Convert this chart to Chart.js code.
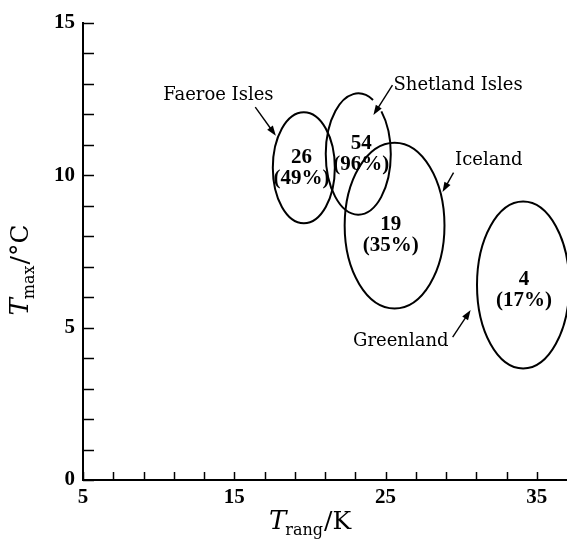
<!DOCTYPE html>
<html>
<head>
<meta charset="utf-8">
<script src="https://cdn.jsdelivr.net/npm/chart.js@4.4.1/dist/chart.umd.min.js"></script>
<style>
  html, body { margin: 0; padding: 0; background: #fff; }
  #wrap { width: 567px; height: 544px; position: relative; }
</style>
</head>
<body>
<div id="wrap"><canvas id="chart"></canvas></div>
<script>
// island clusters: centre and half-widths of each ellipse (data units)
const regions = ['Faeroe Isles', 'Shetland Isles', 'Iceland', 'Greenland'];
const centerX = [19.6, 23.2, 25.6, 34.1];
const centerY = [10.25, 10.7, 8.35, 6.4];
const spreadX = [2.05, 2.15, 3.3, 3.05];
const spreadY = [1.82, 1.99, 2.72, 2.74];
const counts = ['26', '54', '19', '4'];
const percents = ['(49%)', '(96%)', '(35%)', '(17%)'];

// where the count labels sit (data units)
const countX = [19.45, 23.4, 25.35, 34.15];
const countY = [10.27, 10.73, 8.07, 6.24];

// region names and their arrows (data units)
const nameX = [13.95, 25.53, 29.6, 29.17];
const nameY = [12.64, 12.96, 10.5, 4.56];
const nameAlign = ['center', 'left', 'left', 'right'];
const arrowFrom = [[16.39, 12.24], [25.46, 12.96], [29.5, 10.09], [29.44, 4.69]];
const arrowTo = [[17.75, 11.3], [24.2, 11.98], [28.77, 9.45], [30.63, 5.58]];

const xTicks = { min: 5, max: 37, step: 2 };
const yTicks = { min: 0, max: 15, step: 1 };

const serif = '"DejaVu Serif", serif';
const tickFont = '"Liberation Serif", serif';

const drawArrow = (ctx, x0, y0, x1, y1) => {
    const ang = Math.atan2(y1 - y0, x1 - x0);
    const len = 10, half = 3.5;
    ctx.beginPath();
    ctx.moveTo(x0, y0);
    ctx.lineTo(x1 - Math.cos(ang) * len * 0.8, y1 - Math.sin(ang) * len * 0.8);
    ctx.stroke();
    ctx.beginPath();
    ctx.moveTo(x1, y1);
    ctx.lineTo(x1 - Math.cos(ang) * len - Math.sin(ang) * half, y1 - Math.sin(ang) * len + Math.cos(ang) * half);
    ctx.lineTo(x1 - Math.cos(ang) * len + Math.sin(ang) * half, y1 - Math.sin(ang) * len - Math.cos(ang) * half);
    ctx.closePath();
    ctx.fill();
};

const islandsPlugin = {
    id: 'islands',
    afterDraw(chart) {
        const { ctx, scales: { x, y }, chartArea } = chart;
        ctx.save();
        ctx.strokeStyle = '#000';
        ctx.fillStyle = '#000';

        // inward tick marks
        ctx.lineWidth = 1.5;
        y.ticks.forEach(t => {
            const py = Math.round(y.getPixelForValue(t.value)) + 0.5;
            ctx.beginPath();
            ctx.moveTo(chartArea.left, py);
            ctx.lineTo(chartArea.left + 11, py);
            ctx.stroke();
        });
        x.ticks.forEach(t => {
            const px = Math.round(x.getPixelForValue(t.value)) + 0.5;
            if (t.value >= xTicks.max) return;
            ctx.beginPath();
            ctx.moveTo(px, chartArea.bottom);
            ctx.lineTo(px, chartArea.bottom - 8);
            ctx.stroke();
        });

        // ellipses
        ctx.lineWidth = 2;
        regions.forEach((r, i) => {
            const cx = x.getPixelForValue(centerX[i]);
            const cy = y.getPixelForValue(centerY[i]);
            const rx = x.getPixelForValue(centerX[i] + spreadX[i]) - cx;
            const ry = cy - y.getPixelForValue(centerY[i] + spreadY[i]);
            ctx.beginPath();
            if (i === 1) {
                // small break where the Shetland arrow meets the outline
                ctx.ellipse(cx, cy, rx, ry, 0, -0.78, Math.PI * 2 - 1.1);
            } else {
                ctx.ellipse(cx, cy, rx, ry, 0, 0, Math.PI * 2);
            }
            ctx.stroke();
        });

        // counts
        ctx.textAlign = 'center';
        ctx.textBaseline = 'middle';
        ctx.font = 'bold 21px ' + tickFont;
        regions.forEach((r, i) => {
            const px = x.getPixelForValue(countX[i]);
            const py = y.getPixelForValue(countY[i]);
            ctx.fillText(counts[i], px, py - 10);
            ctx.fillText(percents[i], px, py + 11);
        });

        // names and arrows
        ctx.font = '18px ' + serif;
        ctx.lineWidth = 1.4;
        regions.forEach((r, i) => {
            ctx.textAlign = nameAlign[i];
            ctx.fillText(r, x.getPixelForValue(nameX[i]), y.getPixelForValue(nameY[i]));
            drawArrow(ctx,
                x.getPixelForValue(arrowFrom[i][0]), y.getPixelForValue(arrowFrom[i][1]),
                x.getPixelForValue(arrowTo[i][0]), y.getPixelForValue(arrowTo[i][1]));
        });

        // axis titles with subscripts
        const title = (main, sub, rest) => {
            ctx.font = 'italic 26px ' + serif;
            const w1 = ctx.measureText(main).width;
            ctx.font = '16px ' + serif;
            const w2 = ctx.measureText(sub).width;
            ctx.font = '25px ' + serif;
            const w3 = ctx.measureText(rest).width;
            const start = -(w1 + w2 + w3) / 2;
            ctx.textAlign = 'left';
            ctx.textBaseline = 'alphabetic';
            ctx.font = 'italic 26px ' + serif;
            ctx.fillText(main, start, 0);
            ctx.font = '16px ' + serif;
            ctx.fillText(sub, start + w1 - 1, 6);
            ctx.font = '25px ' + serif;
            ctx.fillText(rest, start + w1 + w2, 0);
        };
        ctx.save();
        ctx.translate(chartArea.left + 227, 529);
        title('T', 'rang', '/K');
        ctx.restore();
        ctx.save();
        ctx.translate(28, 270);
        ctx.rotate(-Math.PI / 2);
        title('T', 'max', '/°C');
        ctx.restore();

        ctx.restore();
    }
};

new Chart(document.getElementById('chart'), {
    type: 'scatter',
    data: {
        datasets: [{
            label: 'clusters',
            data: regions.map((r, i) => ({ x: centerX[i], y: centerY[i] })),
            pointRadius: 0,
            pointHoverRadius: 0
        }]
    },
    options: {
        responsive: true,
        maintainAspectRatio: false,
        animation: false,
        events: [],
        layout: { padding: { top: 23, right: 0, left: 0, bottom: 0 } },
        plugins: { legend: { display: false }, tooltip: { enabled: false } },
        scales: {
            x: {
                type: 'linear',
                min: xTicks.min,
                max: xTicks.max,
                grid: { display: false, drawTicks: false },
                border: { display: true, color: '#000', width: 2 },
                ticks: {
                    stepSize: xTicks.step,
                    autoSkip: false,
                    maxRotation: 0,
                    padding: 5,
                    color: '#000',
                    font: { family: tickFont, size: 21, weight: 'bold' },
                    callback: v => ((v - 5) % 10 === 0 ? v : '')
                },
                afterFit: s => { s.height = 64; s.paddingRight = 0; s.paddingLeft = 0; }
            },
            y: {
                type: 'linear',
                min: yTicks.min,
                max: yTicks.max,
                grid: { display: false, drawTicks: false },
                border: { display: true, color: '#000', width: 2 },
                ticks: {
                    stepSize: yTicks.step,
                    autoSkip: false,
                    padding: 8,
                    color: '#000',
                    font: { family: tickFont, size: 21, weight: 'bold' },
                    callback: v => (v % 5 === 0 ? v : '')
                },
                afterFit: s => { s.width = 83; s.paddingTop = 0; s.paddingBottom = 0; }
            }
        }
    },
    plugins: [islandsPlugin]
});
</script>
</body>
</html>
